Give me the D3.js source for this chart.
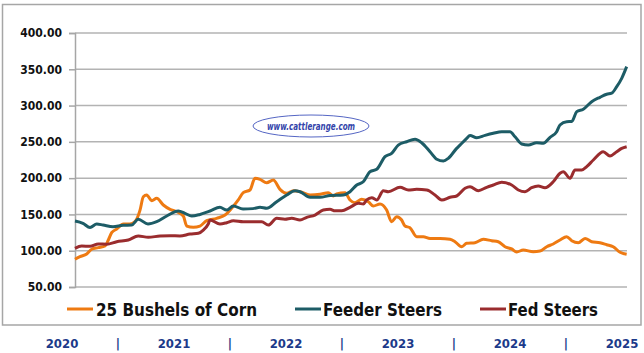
<!DOCTYPE html>
<html>
<head>
<meta charset="utf-8">
<script src="https://cdn.jsdelivr.net/npm/d3@7"></script>
<style>
  body { margin: 0; background: #fff; }
  svg { display: block; }
</style>
</head>
<body>
<div id="chart"></div>
<script>
// x values are years elapsed since Jan 2020 (0 = start of 2020, 5 = start of 2025)
const cornYears = [0,0.045,0.106,0.151,0.211,0.272,0.302,0.332,0.378,0.438,0.498,0.543,0.589,0.619,0.649,0.695,0.740,0.800,0.861,0.921,0.981,1.012,1.072,1.132,1.193,1.283,1.359,1.419,1.479,1.524,1.585,1.630,1.676,1.736,1.796,1.857,1.918,1.978,2.038,2.129,2.219,2.294,2.340,2.370,2.446,2.491,2.536,2.597,2.657,2.702,2.763,2.823,2.868,2.914,2.959,2.989,3.034,3.095,3.155,3.216,3.306,3.397,3.442,3.503,3.548,3.623,3.698,3.774,3.834,3.895,3.955,4.001,4.060,4.151,4.212,4.273,4.332,4.393,4.454,4.499,4.559,4.620,4.680,4.755,4.816,4.875,4.937,4.997];
const cornPrices = [88.2,91.8,95.5,102,104.2,106.5,114.8,124.8,129.9,136.8,136.8,140,156,174.4,176.8,169,172.2,163,157,153.8,147.8,134,132.3,134,141.4,144.6,149.2,158.5,169.9,180,183.7,199.8,198.4,193.7,197.4,184.6,179.1,182.7,181.3,176.8,177.7,180,175.4,178.2,180,169.9,166.2,170.9,167.6,161.6,164.4,156,140,146.9,142.3,134,131.7,119.3,119.3,117,117,115.7,112.4,105.5,110.2,111,115.7,113.8,112.4,105.5,102.4,98.2,101,98.6,99.5,105.5,109.3,114.8,119.3,113.8,111,117,112.4,111,108.3,105.5,97.8,95];

const feederYears = [0,0.072,0.136,0.197,0.254,0.344,0.435,0.514,0.573,0.661,0.740,0.831,0.936,0.996,1.057,1.132,1.223,1.313,1.374,1.434,1.522,1.612,1.676,1.736,1.827,1.918,1.993,2.038,2.129,2.219,2.310,2.430,2.491,2.552,2.611,2.672,2.733,2.808,2.868,2.928,3.004,3.080,3.140,3.216,3.277,3.337,3.381,3.457,3.487,3.548,3.578,3.639,3.714,3.789,3.865,3.940,3.986,4.046,4.106,4.182,4.242,4.303,4.363,4.393,4.454,4.499,4.545,4.604,4.680,4.755,4.816,4.861,4.907,4.952,4.997];
const feederPrices = [141,137.8,132,136.8,135.4,133,135,135.4,143.3,136.8,140,147.8,154.7,151.5,147.8,150,154.7,159.8,156,161.6,157.5,158,159.8,158.5,167.6,176.8,182.7,181.3,173.6,173.6,176,176.8,181.3,190.5,195,208.9,212.2,229.6,234.2,245.6,250.2,253.5,248.8,236.4,226,223.6,227.3,241,245.5,254.9,258.9,255.6,258.9,261.8,264,264,257,247,245.6,248.9,248,256.3,264,273.2,277.8,278,291.6,295,305.4,311.4,315.6,317,326,337.5,353.6];

const fedYears = [0,0.061,0.136,0.211,0.287,0.378,0.483,0.573,0.664,0.770,0.861,0.951,1.042,1.117,1.162,1.207,1.223,1.313,1.374,1.434,1.524,1.615,1.691,1.751,1.827,1.902,1.963,2.038,2.099,2.174,2.249,2.310,2.355,2.416,2.491,2.566,2.611,2.642,2.688,2.733,2.793,2.838,2.944,3.019,3.095,3.186,3.261,3.322,3.397,3.457,3.533,3.578,3.653,3.729,3.789,3.865,3.955,4.016,4.076,4.136,4.196,4.257,4.332,4.393,4.423,4.484,4.529,4.590,4.635,4.695,4.785,4.846,4.907,4.952,4.997];
const fedPrices = [103.3,106.5,106,109.3,109,112.4,114.8,120.3,118.5,120.3,120.7,120.3,123,124,128.5,136.8,142.3,136.8,138.6,141.4,140,140,140,135.4,144.6,143.3,144.6,142.3,146,149.2,156,157,155,155,159.8,165.3,164.4,169.9,173,169.9,182.7,181.3,187.4,183.7,184.6,183.7,176.8,169.9,173.6,175.4,186,188.2,182.7,187.4,190.5,194.2,190.5,183.7,181.3,186.8,189.2,186.8,195,206.7,208.9,199.8,211.2,211.2,215.8,225,236.4,230.5,236.4,241,243.3];

const yTicks = [50, 100, 150, 200, 250, 300, 350, 400];
const yearLabels = ['2020', '2021', '2022', '2023', '2024', '2025'];
const seriesNames = ['25 Bushels of Corn', 'Feeder Steers', 'Fed Steers'];

const width = 644, height = 353;
const margin = {left: 75, right: 17, top: 33, bottom: 66};

const svg = d3.select('#chart').append('svg')
  .attr('width', width)
  .attr('height', height);

// outer frame
svg.append('rect')
  .attr('x', 2.5).attr('y', 4.5)
  .attr('width', 638.5).attr('height', 320.5)
  .attr('fill', 'none')
  .attr('stroke', '#a6a6a6')
  .attr('stroke-width', 1.5);

const x = d3.scaleLinear().domain([0, 5]).range([margin.left, width - margin.right]);
const y = d3.scaleLinear().domain([50, 400]).range([height - margin.bottom, margin.top]);

// gridlines
svg.append('g')
  .selectAll('line')
  .data(yTicks)
  .join('line')
    .attr('x1', margin.left).attr('x2', width - margin.right)
    .attr('y1', d => y(d)).attr('y2', d => y(d))
    .attr('stroke', '#b3b3b3')
    .attr('stroke-width', 1.5);

// y axis
const yAxis = svg.append('g')
  .attr('transform', `translate(${margin.left},0)`)
  .call(d3.axisLeft(y).tickValues(yTicks).tickFormat(d3.format('.2f')).tickSize(6).tickPadding(7));
yAxis.select('.domain').attr('stroke', '#a6a6a6').attr('stroke-width', 1.5);
yAxis.selectAll('.tick line').attr('stroke', '#a6a6a6').attr('stroke-width', 1.5);
yAxis.selectAll('.tick text')
  .attr('font-family', '"DejaVu Sans Condensed", "DejaVu Sans", sans-serif')
  .attr('font-weight', 'bold')
  .attr('font-size', 12)
  .attr('fill', '#111');

// watermark
const wm = svg.append('g').attr('transform', 'translate(311,126)');
wm.append('ellipse')
  .attr('rx', 58).attr('ry', 11)
  .attr('fill', '#fff')
  .attr('stroke', '#5566c4')
  .attr('stroke-width', 1);
wm.append('text')
  .attr('text-anchor', 'middle')
  .attr('y', 4)
  .attr('font-family', '"DejaVu Sans Condensed", "DejaVu Sans", sans-serif')
  .attr('font-weight', 'bold')
  .attr('font-style', 'italic')
  .attr('font-size', 11)
  .attr('fill', '#3344aa')
  .attr('textLength', 88)
  .attr('lengthAdjust', 'spacingAndGlyphs')
  .text('www.cattlerange.com');

const series = [
  {name: seriesNames[0], xs: cornYears, ys: cornPrices, color: '#ee7a12'},
  {name: seriesNames[1], xs: feederYears, ys: feederPrices, color: '#1d5c66'},
  {name: seriesNames[2], xs: fedYears, ys: fedPrices, color: '#9a2c2e'}
];

const line = d3.line()
  .x(d => x(d[0]))
  .y(d => y(d[1]))
  .curve(d3.curveMonotoneX);

svg.append('g')
  .selectAll('path')
  .data([series[0], series[2], series[1]])
  .join('path')
    .attr('fill', 'none')
    .attr('stroke', d => d.color)
    .attr('stroke-width', 3)
    .attr('stroke-linejoin', 'round')
    .attr('d', d => line(d.xs.map((v, i) => [v, d.ys[i]])));

// legend
const legendPos = [
  {x1: 67, x2: 93, tx: 96, len: 161},
  {x1: 295, x2: 321, tx: 323, len: 119},
  {x1: 480, x2: 506, tx: 508, len: 90}
];
const legend = svg.append('g')
  .selectAll('g')
  .data(series)
  .join('g');
legend.append('line')
  .attr('x1', (d, i) => legendPos[i].x1)
  .attr('x2', (d, i) => legendPos[i].x2)
  .attr('y1', 309).attr('y2', 309)
  .attr('stroke', d => d.color)
  .attr('stroke-width', 3);
legend.append('text')
  .attr('x', (d, i) => legendPos[i].tx)
  .attr('y', 315.5)
  .attr('font-family', '"DejaVu Sans Condensed", "DejaVu Sans", sans-serif')
  .attr('font-weight', 'bold')
  .attr('font-size', 17)
  .attr('fill', '#111')
  .attr('textLength', (d, i) => legendPos[i].len)
  .attr('lengthAdjust', 'spacingAndGlyphs')
  .text(d => d.name);

// year strip under the frame
const yearX = d3.scalePoint().domain(yearLabels).range([62, 622]);
const yearRow = svg.append('g')
  .attr('font-family', '"DejaVu Sans Condensed", "DejaVu Sans", sans-serif')
  .attr('font-weight', 'bold')
  .attr('font-size', 13)
  .attr('fill', '#1c3a8a')
  .attr('text-anchor', 'middle');
yearRow.selectAll('text.year')
  .data(yearLabels)
  .join('text')
    .attr('class', 'year')
    .attr('x', d => yearX(d))
    .attr('y', 348)
    .text(d => d);
yearRow.selectAll('text.sep')
  .data(yearLabels.slice(1))
  .join('text')
    .attr('class', 'sep')
    .attr('x', d => yearX(d) - yearX.step() / 2)
    .attr('y', 348)
    .text('|');
</script>
</body>
</html>
